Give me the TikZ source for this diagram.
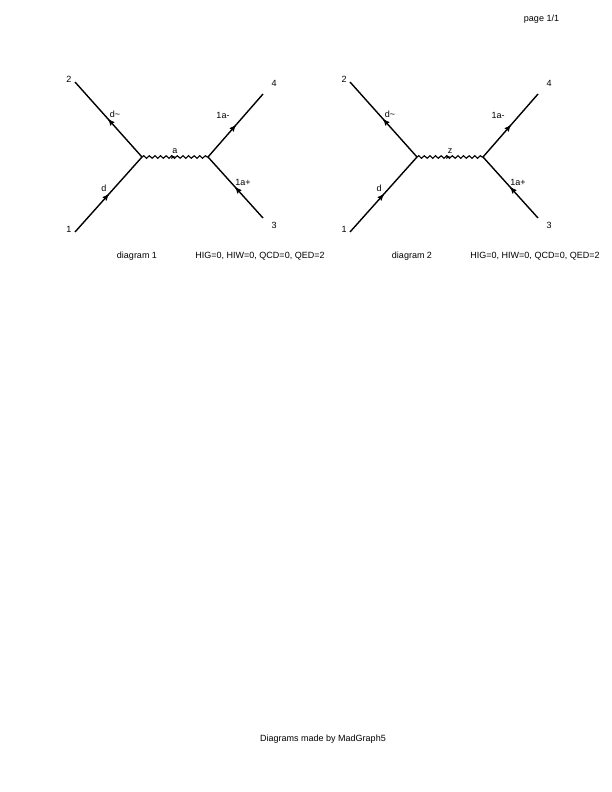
\documentclass[tikz,border=0pt]{standalone}
\usepackage{fontspec}
\setmainfont{Liberation Sans}
\usetikzlibrary{arrows,decorations.markings,decorations.pathmorphing}

\begin{document}
\begin{tikzpicture}[x=1pt,y=-1pt,
  txt/.style={font=\fontsize{9}{10}\selectfont,inner sep=0pt},
  midtip/.style={postaction={decorate,decoration={markings,
    mark=at position 0.5 with {\arrow[line width=0.8pt,scale=#1]{stealth'}}}}},
  fermion/.style={line width=1.4pt,midtip=1.25},
  photon/.style={line width=1.1pt,decorate,decoration={snake,amplitude=1.3pt,segment length=5.6pt}},
  phtip/.style={draw=none,midtip=0.8}]
\useasboundingbox (0,0) rectangle (612,792);

\node[txt] (page) at (541.5,19.5) {page 1/1};

% diagram 1
\coordinate (a1) at (75,232);
\coordinate (a2) at (75,82);
\coordinate (a3) at (263,218);
\coordinate (a4) at (263,94);
\coordinate (av) at (142,157);
\coordinate (aw) at (208,157);
\path
(a1) edge[fermion] (av)
(av) edge[fermion] (a2)
(aw) edge[fermion] (a4)
(a3) edge[fermion] (aw)
(av) edge[photon]  (aw)
(av) edge[phtip]   (aw);
\node[txt] (a1l)  at (69,229)  {1};
\node[txt] (a2l)  at (69,79)   {2};
\node[txt] (a3l)  at (274,225) {3};
\node[txt] (a4l)  at (274,83)  {4};
\node[txt] (adb)  at (115,114) {d\char`~};
\node[txt] (ad)   at (104,188) {d};
\node[txt] (aem)  at (223,115) {1a-};
\node[txt] (aep)  at (243,182) {1a+};
\node[txt] (ag)   at (175,151) {a};
\node[txt] (acap) at (137,256) {diagram 1};
\node[txt] (aord) at (260,256) {HIG=0, HIW=0, QCD=0, QED=2};

% diagram 2
\coordinate (b1) at (350,232);
\coordinate (b2) at (350,82);
\coordinate (b3) at (538,218);
\coordinate (b4) at (538,94);
\coordinate (bv) at (417,157);
\coordinate (bw) at (483,157);
\path
(b1) edge[fermion] (bv)
(bv) edge[fermion] (b2)
(bw) edge[fermion] (b4)
(b3) edge[fermion] (bw)
(bv) edge[photon]  (bw)
(bv) edge[phtip]   (bw);
\node[txt] (b1l)  at (344,229) {1};
\node[txt] (b2l)  at (344,79)  {2};
\node[txt] (b3l)  at (549,225) {3};
\node[txt] (b4l)  at (549,83)  {4};
\node[txt] (bdb)  at (390,114) {d\char`~};
\node[txt] (bd)   at (379,188) {d};
\node[txt] (bem)  at (498,115) {1a-};
\node[txt] (bep)  at (518,182) {1a+};
\node[txt] (bz)   at (450,151) {z};
\node[txt] (bcap) at (412,256) {diagram 2};
\node[txt] (bord) at (535,256) {HIG=0, HIW=0, QCD=0, QED=2};

\node[txt] (made) at (323,739) {Diagrams made by MadGraph5};
\end{tikzpicture}
\end{document}
